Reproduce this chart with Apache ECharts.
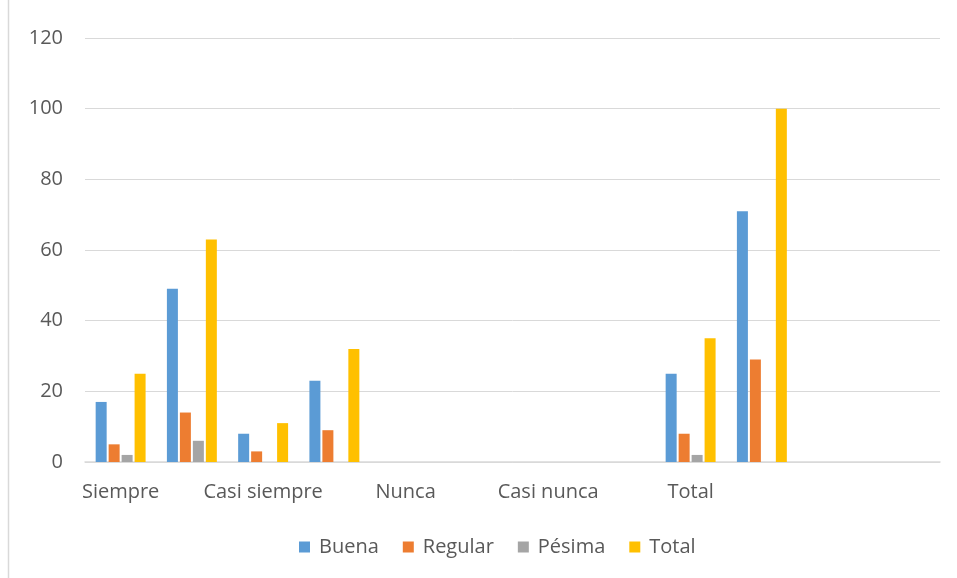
<!DOCTYPE html>
<html><head><meta charset="utf-8">
<script src="https://cdn.jsdelivr.net/npm/echarts@6/dist/echarts.min.js"></script>
<style>html,body{margin:0;padding:0;background:#fff}#c{width:957px;height:578px}</style>
</head><body><div id="c"></div>
<script>
const categories = ['Siempre','','Casi siempre','','Nunca','','Casi nunca','','Total','','',''];
const buena   = [17, 49, 8, 23, 0, 0, 0, 0, 25, 71, null, null];
const regular = [5, 14, 3, 9, 0, 0, 0, 0, 8, 29, null, null];
const pesima  = [2, 6, 0, 0, 0, 0, 0, 0, 2, 0, null, null];
const total   = [25, 63, 11, 32, 0, 0, 0, 0, 35, 100, null, null];
const seriesNames = ['Buena','Regular','Pésima','Total'];
const colors = ['#5B9BD5','#ED7D31','#A5A5A5','#FFC000'];
const font = '"Open Sans", "Liberation Sans", sans-serif';
const chart = echarts.init(document.getElementById('c'));
const data = [buena, regular, pesima, total];
chart.setOption({
  animation:false,
  color: colors,
  graphic:[{type:'line',shape:{x1:8.5,y1:0,x2:8.5,y2:578},style:{stroke:'#d9d9d9',lineWidth:1.5}}],
  grid:{left:85,right:17,top:38,bottom:116,containLabel:false},
  legend:{bottom:16,left:294,itemWidth:11,itemHeight:11,itemGap:24,icon:'rect',
    textStyle:{color:'#595959',fontSize:20,fontFamily:font,padding:[0,0,0,4]},data:seriesNames},
  xAxis:{type:'category',data:categories,
    axisLine:{lineStyle:{color:'#d9d9d9',width:1.5}},axisTick:{show:false},
    axisLabel:{interval:1,color:'#595959',fontSize:20,fontFamily:font,margin:20}},
  yAxis:{type:'value',min:0,max:120,interval:20,
    axisLine:{show:false},axisTick:{show:false},
    splitLine:{lineStyle:{color:'#d9d9d9',width:1}},
    axisLabel:{color:'#595959',fontSize:20,fontFamily:font,margin:22}},
  series: seriesNames.map((n,i)=>({name:n,type:'bar',data:data[i],barWidth:11,barGap:'18%'}))
});
</script></body></html>
